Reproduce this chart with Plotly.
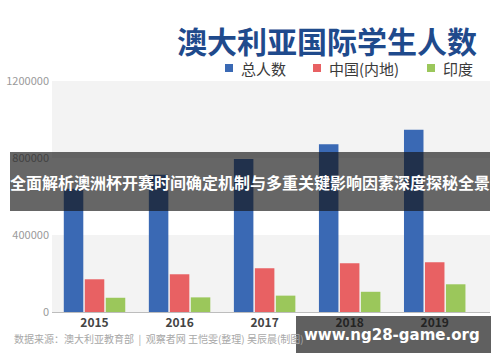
import plotly.graph_objects as go

years = ["2015", "2016", "2017", "2018", "2019"]
total = [640000, 713000, 795000, 872000, 947000]
china = [170000, 196000, 227000, 253000, 258000]
india = [74000, 76000, 85000, 105000, 144000]
series_names = ["总人数", "中国(内地)", "印度"]
colors = ["#3a69b4", "#e86163", "#9bc75b"]
ytick_vals = [0, 400000, 800000, 1200000]
ytick_text = ["0", "400000", "800000", "1200000"]

W, H = 500, 362
L, R, T, B = 52, 490, 81, 312

def px(x):
    return (x - L) / (R - L)

def py(y):
    return (B - y) / (B - T)

FONT = "Noto Sans CJK SC"

fig = go.Figure()
for name, vals, c in zip(series_names, [total, china, india], colors):
    fig.add_trace(go.Bar(x=years, y=vals, name=name, marker=dict(color=c, line=dict(width=0))))

shapes = []
# alternating background bands
for y0, y1 in [(0, 400000), (800000, 1200000)]:
    shapes.append(dict(type="rect", xref="paper", yref="y", x0=0, x1=1, y0=y0, y1=y1,
                       fillcolor="#f3f3f3", line=dict(width=0), layer="below"))

annotations = [
    dict(text="<b>澳大利亚国际学生人数</b>", xref="paper", yref="paper", x=px(479), y=py(40),
         xanchor="right", yanchor="middle", showarrow=False,
         font=dict(family=FONT, size=30, color="#1f4a8c")),
    dict(text="数据来源：澳大利亚教育部  |  观察者网 王恺雯(整理) 吴辰晨(制图)", xref="paper", yref="paper",
         x=px(12), y=py(338), xanchor="left", yanchor="middle", showarrow=False,
         font=dict(family=FONT, size=10, color="#a8a8a8")),
]

# legend (manual, built from series names / colours)
legend_sq_x = [225, 313, 427]
for name, c, lx in zip(series_names, colors, legend_sq_x):
    shapes.append(dict(type="rect", xref="paper", yref="paper", x0=px(lx), x1=px(lx + 8),
                       y0=py(72), y1=py(64), fillcolor=c, line=dict(width=0), layer="above"))
    annotations.append(dict(text=name, xref="paper", yref="paper", x=px(lx + 14), y=py(68),
                            xanchor="left", yanchor="middle", showarrow=False,
                            font=dict(family=FONT, size=15, color="#3a3a3a")))

# overlay banners
shapes.append(dict(type="rect", xref="paper", yref="paper", x0=px(10), x1=px(490), y0=py(211), y1=py(152),
                   fillcolor="rgba(20,20,20,0.65)", line=dict(width=0), layer="above"))
shapes.append(dict(type="rect", xref="paper", yref="paper", x0=px(296), x1=px(491), y0=py(353), y1=py(316),
                   fillcolor="rgba(20,20,20,0.68)", line=dict(width=0), layer="above"))
annotations += [
    dict(text="<b>全面解析澳洲杯开赛时间确定机制与多重关键影响因素深度探秘全景</b>", xref="paper", yref="paper",
         x=px(250), y=py(182), xanchor="center", yanchor="middle", showarrow=False,
         font=dict(family=FONT, size=16, color="#ffffff")),
    dict(text="<b>www.ng28-game.org</b>", xref="paper", yref="paper",
         x=px(392), y=py(335), xanchor="center", yanchor="middle", showarrow=False,
         font=dict(family="DejaVu Sans", size=15, color="#ffffff")),
]

fig.update_layout(
    width=W, height=H,
    margin=dict(l=L, r=W - R, t=T, b=H - B, pad=0, autoexpand=False),
    paper_bgcolor="white", plot_bgcolor="white",
    barmode="group", bargap=0.26, bargroupgap=0.07,
    font=dict(family=FONT),
    showlegend=False,
    xaxis=dict(type="category", range=[-0.5, 4.65], showgrid=False, zeroline=False, automargin=False,
               showline=True, linecolor="#bdbdbd", linewidth=1, ticks="",
               tickfont=dict(family=FONT, size=12, color="#444444"), fixedrange=True),
    yaxis=dict(range=[0, 1200000], tickvals=ytick_vals, ticktext=ytick_text, showgrid=False,
               zeroline=False, showline=False, ticks="", ticklabelstandoff=2, automargin=False,
               tickfont=dict(family=FONT, size=11, color="#9a9a9a"), fixedrange=True),
    shapes=shapes, annotations=annotations,
)
fig.update_xaxes(tickprefix="<b>", ticksuffix="</b>")

fig.write_html("out.html", config={"displayModeBar": False},
               post_script="document.body.style.margin='0';document.body.style.overflow='hidden';")
